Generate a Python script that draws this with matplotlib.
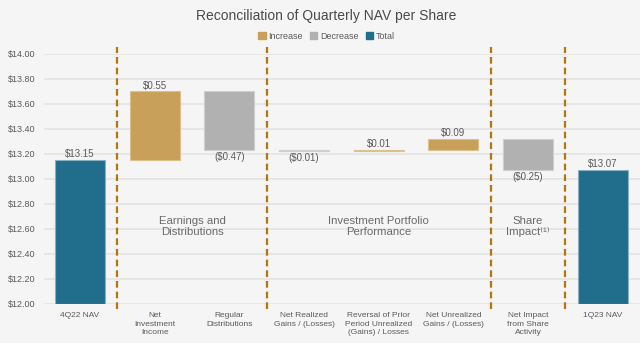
import matplotlib.pyplot as plt
from matplotlib.patches import Patch

plt.rcParams['font.family'] = ['Liberation Sans', 'DejaVu Sans']

# data
categories = ['4Q22 NAV', 'Net\nInvestment\nIncome', 'Regular\nDistributions',
              'Net Realized\nGains / (Losses)', 'Reversal of Prior\nPeriod Unrealized\n(Gains) / Losses',
              'Net Unrealized\nGains / (Losses)', 'Net Impact\nfrom Share\nActivity', '1Q23 NAV']
start_nav = 13.15
changes = [0.55, -0.47, -0.01, 0.01, 0.09, -0.25]
end_nav = 13.07
sections = ['Earnings and\nDistributions', 'Investment Portfolio\nPerformance', 'Share\nImpact⁽¹⁾']
section_x = [1.5, 4.0, 6.0]
dividers = [0.5, 2.5, 5.5, 6.5]

c_inc = '#c9a05a'
c_dec = '#b1b1b1'
c_tot = '#216e8c'
bg = '#f5f5f5'
txt = '#5a5a5a'
ymin, ymax = 12.0, 14.0

fig = plt.figure(figsize=(6.4, 3.43), dpi=100, facecolor=bg)
ax = fig.add_axes([0.069, 0.114, 0.931, 0.729])
ax.set_facecolor(bg)

# totals
for i, v in [(0, start_nav), (7, end_nav)]:
    ax.bar(i, v - ymin, bottom=ymin, width=0.67, color=c_tot,
           edgecolor='#8ab0c2', linewidth=0.8, zorder=3)
    ax.text(i, v + 0.01, f'${v:.2f}', ha='center', va='bottom', fontsize=7, color=txt)

# changes
level = start_nav
for k, d in enumerate(changes):
    i = k + 1
    lo = min(level, level + d)
    col = c_inc if d > 0 else c_dec
    edge = '#ddc08e' if d > 0 else '#cfcfcf'
    ax.bar(i, abs(d), bottom=lo, width=0.67, color=col, edgecolor=edge, linewidth=0.8, zorder=3)
    if d > 0:
        ax.text(i, lo + abs(d) + 0.005, f'${d:.2f}', ha='center', va='bottom', fontsize=7, color=txt)
    else:
        ax.text(i, lo - 0.012, f'(${abs(d):.2f})', ha='center', va='top', fontsize=7, color=txt)
    level += d

for x in dividers:
    ax.plot([x, x], [11.96, 14.056], color='#b8730a', lw=1.6, dashes=(3, 1.8),
            clip_on=False, zorder=4)

for s, x in zip(sections, section_x):
    ax.text(x, 12.62, s, ha='center', va='center', fontsize=8.2, color='#6a6a6a',
            linespacing=1.15)

ax.set_xlim(-0.48, 7.5)
ax.set_ylim(ymin, ymax)
ax.set_yticks([12.0 + 0.2 * j for j in range(11)])
ax.set_yticklabels([f'${12.0 + 0.2 * j:.2f}' for j in range(11)], fontsize=6.5, color=txt)
ax.set_xticks(range(len(categories)))
ax.set_xticklabels(categories, fontsize=6, color=txt, linespacing=1.3)
ax.tick_params(length=0, pad=6)
ax.grid(axis='y', color='#e2e2e2', lw=1.1, zorder=0)
for sp in ax.spines.values():
    sp.set_visible(False)

fig.suptitle('Reconciliation of Quarterly NAV per Share', x=0.51, y=0.975,
             fontsize=10, color='#4a4a4a')
handles = [Patch(color=c_inc, label='Increase'), Patch(color=c_dec, label='Decrease'),
           Patch(color=c_tot, label='Total')]
fig.legend(handles=handles, loc='center', bbox_to_anchor=(0.51, 0.895), ncol=3,
           frameon=False, fontsize=6.5, handlelength=0.8, handleheight=0.8,
           handletextpad=0.3, columnspacing=0.8, labelcolor=txt)

fig.savefig('out.png', dpi=100, facecolor=bg)
